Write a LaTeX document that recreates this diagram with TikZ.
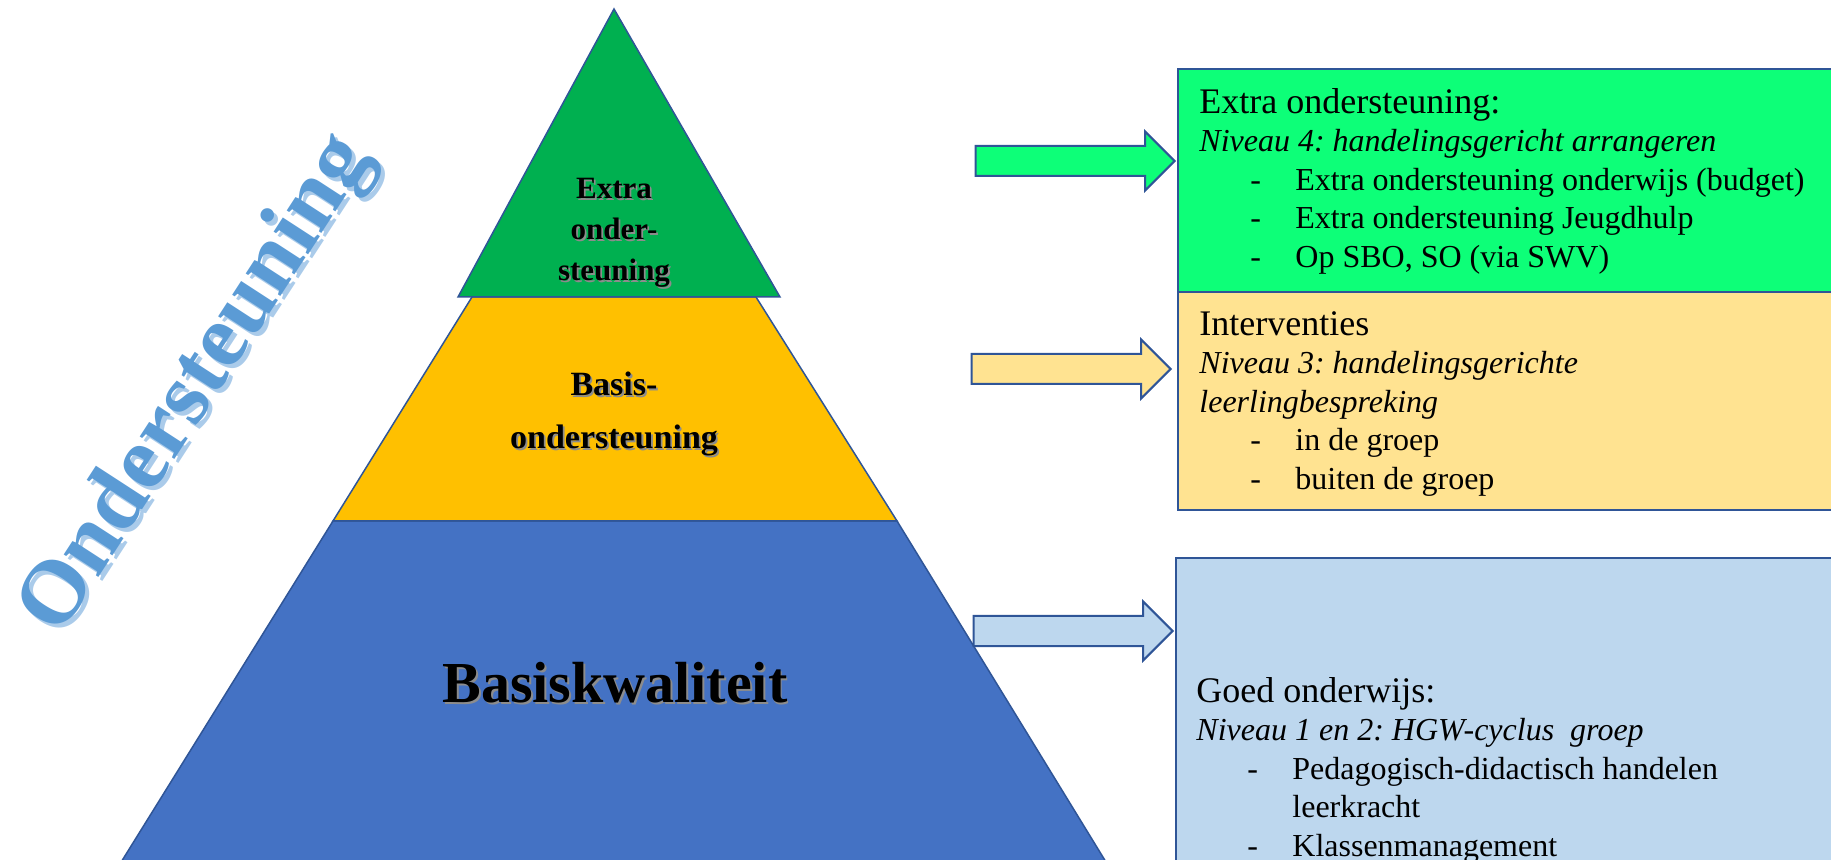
\documentclass[tikz,border=0pt]{standalone}
\usepackage{fontspec}
\setmainfont{Liberation Serif}
\usepackage{xcolor}
\definecolor{pyrLine}{HTML}{2F5597}
\definecolor{topGreen}{HTML}{00B050}
\definecolor{midGold}{HTML}{FFC000}
\definecolor{baseBlue}{HTML}{4472C4}
\definecolor{boxGreen}{HTML}{0DFF78}
\definecolor{boxYellow}{HTML}{FFE391}
\definecolor{boxBlue}{HTML}{BDD7EE}
\definecolor{wordBlue}{HTML}{5B9BD5}
\definecolor{wordShade}{HTML}{AACBEA}
\usetikzlibrary{positioning,shapes.arrows}
\frenchspacing
\newcommand{\dashItem}[1]{\hspace*{25.5pt}\makebox[22.5pt][l]{-}#1}
\tikzset{%
  layerShape/.style={%
    draw=pyrLine,
    line width=0.75pt
  },
  layerLabel/.style={%
    align=center,
    inner sep=0pt
  },
  labelShade/.style={%
    layerLabel,
    text=black!45,
    xshift=0.9pt,
    yshift=-0.9pt
  },
  infoBox/.style={%
    rectangle,
    draw=pyrLine,
    line width=1pt,
    anchor=north west,
    minimum width=340pt
  },
  boxText/.style={%
    inner sep=0pt,
    align=left,
    font=\fontsize{16}{19.25}\selectfont
  },
  blockArrow/.style={%
    single arrow,
    draw=pyrLine,
    line width=1pt,
    single arrow head extend=7.25pt,
    minimum width=28.5pt,
    minimum height=99.5pt,
    inner xsep=0pt,
    inner ysep=7pt,
    anchor=tip
  }
}

\begin{document}
\begin{tikzpicture}[x=0.5pt, y=-0.5pt]
  \useasboundingbox (0,0) rectangle (1831,860);
  \clip (0,0) rectangle (1831,860);

  % pyramid
  \filldraw[layerShape, fill=baseBlue] (333,521) -- (897,521) -- (1117,880) -- (110,880) -- cycle;
  \filldraw[layerShape, fill=midGold] (472,297) -- (756,297) -- (897,521) -- (333,521) -- cycle;
  \filldraw[layerShape, fill=topGreen] (614,9) -- (780,297) -- (458,297) -- cycle;

  \node[labelShade, font=\fontsize{15.5}{20.5}\selectfont\bfseries] (topShade) at (614,233) {Extra\\onder-\\steuning};
  \node[layerLabel, font=\fontsize{15.5}{20.5}\selectfont\bfseries] (topLabel) at (614,233) {Extra\\onder-\\steuning};
  \node[labelShade, font=\fontsize{17}{26.5}\selectfont\bfseries] (midShade) at (614,414) {Basis-\\ondersteuning};
  \node[layerLabel, font=\fontsize{17}{26.5}\selectfont\bfseries] (midLabel) at (614,414) {Basis-\\ondersteuning};
  \node[labelShade, font=\fontsize{29}{30}\selectfont\bfseries] (baseShade) at (615,683) {Basiskwaliteit};
  \node[layerLabel, font=\fontsize{29}{30}\selectfont\bfseries] (baseLabel) at (615,683) {Basiskwaliteit};

  % side title
  \node[font=\fontsize{45}{45}\selectfont\bfseries, text=wordShade, rotate=57] (sideShade) at (202,389) {Ondersteuning};
  \node[font=\fontsize{45}{45}\selectfont\bfseries, text=wordBlue, rotate=57] (sideTitle) at (198,385) {Ondersteuning};

  % boxes on the right
  \node[infoBox, fill=boxGreen, minimum height=111.5pt] (boxExtra) at (1177,68) {};
  \node[infoBox, fill=boxYellow, minimum height=109pt] (boxInterv) at (1177,291) {};
  \node[infoBox, fill=boxBlue, minimum height=170pt] (boxBasis) at (1175,557) {};

  \node[boxText, below right=9pt and 11pt of boxExtra.north west] (txtExtra) {%
    {\fontsize{18}{19.25}\selectfont\strut Extra ondersteuning:}\\
    \textit{Niveau 4: handelingsgericht arrangeren}\\
    \dashItem{Extra ondersteuning onderwijs (budget)}\\
    \dashItem{Extra ondersteuning Jeugdhulp}\\
    \dashItem{Op SBO, SO (via SWV)}};
  \node[boxText, below right=8.5pt and 11pt of boxInterv.north west] (txtInterv) {%
    {\fontsize{18}{19.25}\selectfont\strut Interventies}\\
    \textit{Niveau 3: handelingsgerichte}\\
    \textit{leerlingbespreking}\\
    \dashItem{in de groep}\\
    \dashItem{buiten de groep}};
  \node[boxText, below right=59pt and 10.5pt of boxBasis.north west] (txtBasis) {%
    {\fontsize{18}{19.25}\selectfont\strut Goed onderwijs:}\\
    \textit{Niveau 1 en 2: HGW-cyclus\ \ groep}\\
    \dashItem{Pedagogisch-didactisch handelen}\\
    \hspace*{48pt}leerkracht\\
    \dashItem{Klassenmanagement}};

  % block arrows
  \node[blockArrow, fill=boxGreen] (arrExtra) at (1176,161) {};
  \node[blockArrow, fill=boxYellow] (arrInterv) at (1172,369) {};
  \node[blockArrow, fill=boxBlue] (arrBasis) at (1174,631) {};
\end{tikzpicture}
\end{document}
